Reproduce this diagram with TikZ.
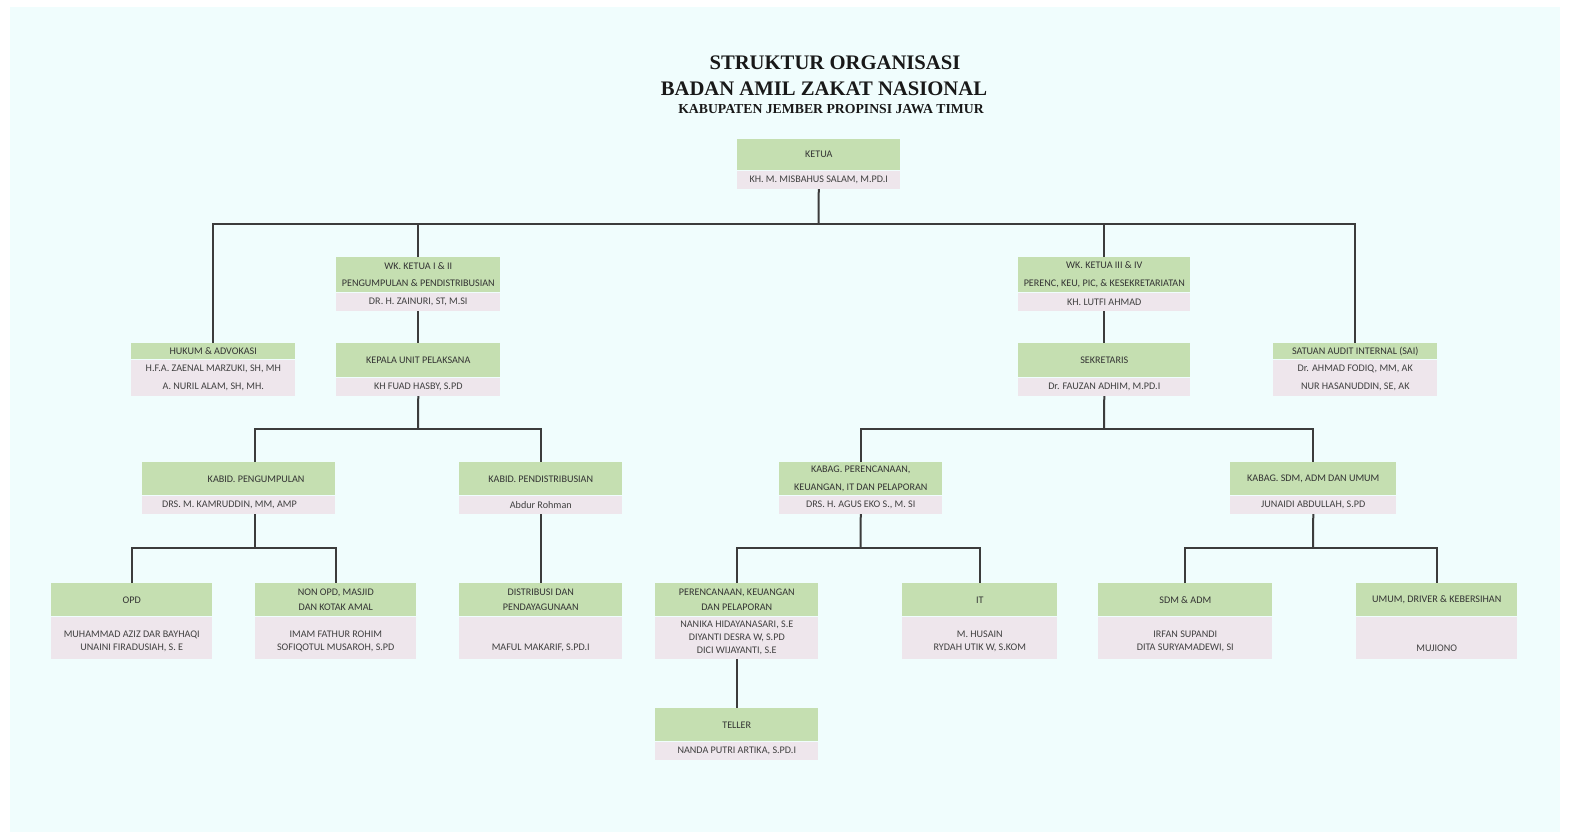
\documentclass[tikz,border=0pt]{standalone}
\usepackage{fontspec}
\setmainfont{Liberation Serif}
\newfontfamily\boxfont{Carlito}
\definecolor{bgcyan}{HTML}{F0FDFD}
\definecolor{hdgreen}{HTML}{C5DFB1}
\definecolor{nmpink}{HTML}{EEE6EC}
\definecolor{linegray}{HTML}{3C3C3C}
\tikzset{
  hd/.style n args={2}{fill=hdgreen, anchor=north west, inner sep=0pt, align=center,
    minimum width=#1*0.75pt, minimum height=#2*0.75pt, text=black!80,
    font=\boxfont\fontsize{7.6}{7.6}\selectfont},
  nm/.style n args={2}{fill=nmpink, anchor=north west, inner sep=0pt, align=center,
    minimum width=#1*0.75pt, minimum height=#2*0.75pt, text=black!75,
    font=\boxfont\fontsize{7.6}{10}\selectfont},
  link/.style={draw=linegray, line width=1.5pt},
}
\begin{document}
\begin{tikzpicture}[x=0.75pt,y=0.75pt,yscale=-1,xscale=1]
\useasboundingbox (0,0) rectangle (1571,836);
%Shape: Rectangle [background]
\fill[bgcyan] (10,7) rectangle (1560,832);

% Title
\node[anchor=base, font=\bfseries\fontsize{15.5}{18}\selectfont, text=black!90] (judul1) at (835,69) {STRUKTUR ORGANISASI};
\node[anchor=base, font=\bfseries\fontsize{15.5}{18}\selectfont, text=black!90] (judul2) at (824,95) {BADAN AMIL ZAKAT NASIONAL};
\node[anchor=base, font=\bfseries\fontsize{10.3}{12}\selectfont, text=black!90] (judul3) at (831,113) {KABUPATEN JEMBER PROPINSI JAWA TIMUR};

% Ketua
\node[hd={163}{31}] (ketua) at (737,139) {KETUA};
\node[nm={163}{18}] (ketuaN) at (ketua.south west) {KH. M. MISBAHUS SALAM, M.PD.I};

% Wakil ketua I & II
\node[hd={164}{35}] (wk12) at (336,257) {WK. KETUA I \& II\\[5.5pt]PENGUMPULAN \& PENDISTRIBUSIAN};
\node[nm={164}{18}] (wk12N) at (wk12.south west) {DR. H. ZAINURI, ST, M.SI};
% Hukum
\node[hd={164}{16}] (hukum) at (131,343) {HUKUM \& ADVOKASI};
\node[nm={164}{36}] (hukumN) at (hukum.south west) {H.F.A. ZAENAL MARZUKI, SH, MH\\[3.5pt]A. NURIL ALAM, SH, MH.};
% Kepala unit
\node[hd={164}{34}] (kepala) at (336,343) {KEPALA UNIT PELAKSANA};
\node[nm={164}{18}] (kepalaN) at (kepala.south west) {KH FUAD HASBY, S.PD};

% Wakil ketua III & IV
\node[hd={172}{35}] (wk34) at (1018,257) {WK. KETUA III \& IV\\[5.5pt]PERENC, KEU, PIC, \& KESEKRETARIATAN};
\node[nm={172}{18}] (wk34N) at (wk34.south west) {KH. LUTFI AHMAD};
% Sekretaris
\node[hd={172}{34}] (sekre) at (1018,343) {SEKRETARIS};
\node[nm={172}{18}] (sekreN) at (sekre.south west) {Dr. FAUZAN ADHIM, M.PD.I};
% SAI
\node[hd={164}{16}] (sai) at (1273,343) {SATUAN AUDIT INTERNAL (SAI)};
\node[nm={164}{36}] (saiN) at (sai.south west) {Dr. AHMAD FODIQ, MM, AK\\[3.5pt]NUR HASANUDDIN, SE, AK};

% Kabid / Kabag
\node[hd={193}{33}] (kabidA) at (142,462) {\hspace*{26pt}KABID. PENGUMPULAN};
\node[nm={193}{18}] (kabidAN) at (kabidA.south west) {DRS. M. KAMRUDDIN, MM, AMP\hspace*{14pt}};
\node[hd={163}{33}] (kabidB) at (459,462) {KABID. PENDISTRIBUSIAN};
\node[nm={163}{18}] (kabidBN) at (kabidB.south west) {Abdur Rohman};
\node[hd={163}{33}] (kabagA) at (779,462) {KABAG. PERENCANAAN,\\[5.5pt]KEUANGAN, IT DAN PELAPORAN};
\node[nm={163}{18}] (kabagAN) at (kabagA.south west) {DRS. H. AGUS EKO S., M. SI};
\node[hd={166}{33}] (kabagB) at (1230,462) {KABAG. SDM, ADM DAN UMUM};
\node[nm={166}{18}] (kabagBN) at (kabagB.south west) {JUNAIDI ABDULLAH, S.PD};

% Bottom row
\node[hd={161}{33}] (opd) at (51,583) {OPD};
\node[nm={161}{42}] (opdN) at (opd.south west) {\\MUHAMMAD AZIZ DAR BAYHAQI\\UNAINI FIRADUSIAH, S. E};
\node[hd={161}{33}] (nonopd) at (255,583) {NON OPD, MASJID\\[4pt]DAN KOTAK AMAL};
\node[nm={161}{42}] (nonopdN) at (nonopd.south west) {\\IMAM FATHUR ROHIM\\SOFIQOTUL MUSAROH, S.PD};
\node[hd={163}{33}] (distr) at (459,583) {DISTRIBUSI DAN\\[4pt]PENDAYAGUNAAN};
\node[nm={163}{42}] (distrN) at (distr.south west) {\\ \\MAFUL MAKARIF, S.PD.I};
\node[hd={163}{33}] (renc) at (655,583) {PERENCANAAN, KEUANGAN\\[4pt]DAN PELAPORAN};
\node[nm={163}{42}] (rencN) at (renc.south west) {NANIKA HIDAYANASARI, S.E\\DIYANTI DESRA W, S.PD\\DICI WIJAYANTI, S.E};
\node[hd={155}{33}] (it) at (902,583) {IT};
\node[nm={155}{42}] (itN) at (it.south west) {\\M. HUSAIN\\RYDAH UTIK W, S.KOM};
\node[hd={174}{33}] (sdm) at (1098,583) {SDM \& ADM};
\node[nm={174}{42}] (sdmN) at (sdm.south west) {\\IRFAN SUPANDI\\DITA SURYAMADEWI, SI};
\node[hd={161}{33}] (umum) at (1356,583) {UMUM, DRIVER \& KEBERSIHAN};
\node[nm={161}{42}] (umumN) at (umum.south west) {\\ \\MUJIONO};
\node[hd={163}{33}] (teller) at (655,708) {TELLER};
\node[nm={163}{18}] (tellerN) at (teller.south west) {NANDA PUTRI ARTIKA, S.PD.I};

% Connectors
\coordinate (busT) at (818.5,224);
\coordinate (busL) at (418,429);
\coordinate (busR) at (1104,429);
\coordinate (busKA) at (255,548);
\coordinate (busKB) at (860.5,548);
\coordinate (busKC) at (1313,548);

\draw[link] (ketuaN.south) -- (busT);
\draw[link] (hukum.north) |- (busT) -| (sai.north);
\draw[link] (wk12.north) -- (wk12.north |- busT);
\draw[link] (wk34.north) -- (wk34.north |- busT);
\draw[link] (wk12N.south) -- (kepala.north);
\draw[link] (wk34N.south) -- (sekre.north);

\draw[link] (kepalaN.south) -- (busL);
\draw[link] (busKA |- kabidA.north) |- (busL) -| (kabidB.north);
\draw[link] (sekreN.south) -- (busR);
\draw[link] (kabagA.north) |- (busR) -| (kabagB.north);

\draw[link] (busKA |- kabidAN.south) -- (busKA);
\draw[link] (opd.north) |- (busKA) -| (nonopd.north);
\draw[link] (kabidBN.south) -- (distr.north);
\draw[link] (kabagAN.south) -- (busKB);
\draw[link] (renc.north) |- (busKB) -| (it.north);
\draw[link] (kabagBN.south) -- (busKC);
\draw[link] (sdm.north) |- (busKC) -| (umum.north);
\draw[link] (rencN.south) -- (teller.north);

\end{tikzpicture}
\end{document}
